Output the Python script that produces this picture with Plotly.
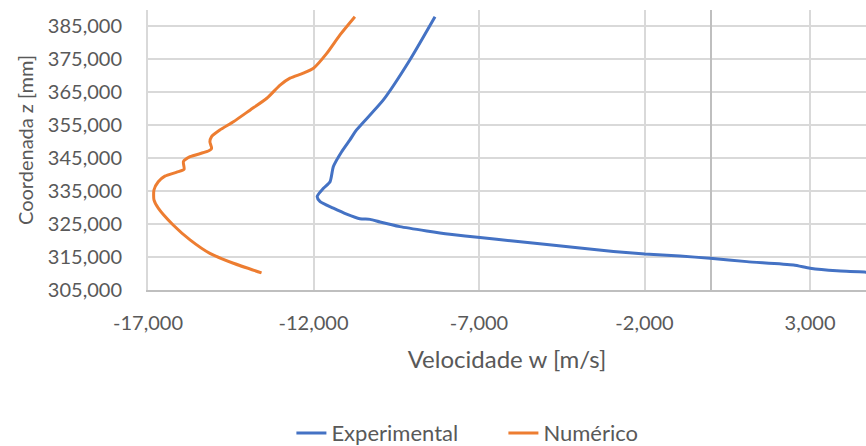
import plotly.graph_objects as go

# Vertical velocity profiles: coordinate z [mm] vs velocity w [m/s]
w_experimental = [-8330, -9090, -9890, -10700, -10900, -11150, -11400, -11500, -11700,
                  -11890, -11800, -11400, -11000, -10600, -10290, -9990, -9390, -8580,
                  -7880, -6970, -5970, -4950, -3950, -2940, -1990, -930, -20, 1090,
                  2500, 3000, 3810, 4690, 5300]
z_experimental = [387800, 374700, 362600, 353500, 350500, 346900, 342400, 337800, 335800,
                  333300, 331800, 329800, 328000, 326600, 326400, 325600, 324200, 322900,
                  321900, 320900, 319850, 318800, 317700, 316700, 315900, 315300, 314600,
                  313600, 312600, 311600, 310800, 310400, 310200]

w_numerico = [-10750, -11200, -11600, -12000, -12310, -12710, -13010, -13410, -13920,
              -14420, -14830, -15080, -15130, -15080, -15230, -15730, -15930, -15910,
              -16130, -16490, -16690, -16820, -16820, -16690, -16240, -15730, -15130,
              -14420, -13570]
z_numerico = [387800, 382300, 376700, 372200, 370700, 369200, 367100, 363100, 359500,
              356000, 353500, 351500, 349900, 347900, 346900, 345400, 343900, 341600,
              340700, 339500, 337800, 335300, 332300, 329800, 324700, 320200, 316100,
              313100, 310200]

x_tick_vals = [-17000, -12000, -7000, -2000, 3000]
x_tick_text = ["-17,000", "-12,000", "-7,000", "-2,000", "3,000"]
y_tick_vals = [305000, 315000, 325000, 335000, 345000, 355000, 365000, 375000, 385000]
y_tick_text = ["305,000", "315,000", "325,000", "335,000", "345,000",
               "355,000", "365,000", "375,000", "385,000"]

FONT = "Lato"
GREY = "#595959"
GRID = "#d9d9d9"

fig = go.Figure()
fig.add_trace(go.Scatter(
    x=w_experimental, y=z_experimental, mode="lines", name="Experimental",
    line=dict(color="#4472C4", width=3, shape="spline", smoothing=0.6),
))
fig.add_trace(go.Scatter(
    x=w_numerico, y=z_numerico, mode="lines", name="Numérico",
    line=dict(color="#ED7D31", width=3, shape="spline", smoothing=0.6),
))

fig.update_layout(
    width=866, height=446,
    margin=dict(l=148, r=0, t=10, b=156, autoexpand=False),
    paper_bgcolor="white", plot_bgcolor="white",
    font=dict(family=FONT, color=GREY, size=20),
    showlegend=True,
    legend=dict(
        orientation="h", x=0.495, xanchor="center", y=-0.511, yanchor="middle",
        font=dict(family=FONT, size=22, color=GREY),
        entrywidth=167, entrywidthmode="pixels",
        traceorder="normal",
    ),
    # vertical axis title, placed as a rotated annotation left of the tick labels
    annotations=[dict(
        text="Coordenada z [mm]", textangle=-90, showarrow=False,
        xref="paper", yref="paper", x=-0.1713, y=0.5357,
        xanchor="center", yanchor="middle",
        font=dict(family=FONT, size=20, color=GREY),
    )],
)

fig.update_xaxes(
    range=[-17000, 4690], tickvals=x_tick_vals, ticktext=x_tick_text,
    showgrid=True, gridcolor=GRID, gridwidth=2,
    zeroline=True, zerolinecolor="#bfbfbf", zerolinewidth=2,
    showline=True, linecolor="#bfbfbf", linewidth=2,
    ticks="", ticklabelstandoff=14,
    tickfont=dict(family=FONT, size=20, color=GREY),
    title=dict(text="Velocidade w [m/s]", standoff=18,
               font=dict(family=FONT, size=24, color=GREY)),
)
fig.update_yaxes(
    range=[305000, 389850], tickvals=y_tick_vals, ticktext=y_tick_text,
    showgrid=True, gridcolor=GRID, gridwidth=2,
    zeroline=False, showline=True, linecolor=GRID, linewidth=2,
    ticks="", ticklabelstandoff=20,
    tickfont=dict(family=FONT, size=20, color=GREY),
)

fig.write_html("out.html")
